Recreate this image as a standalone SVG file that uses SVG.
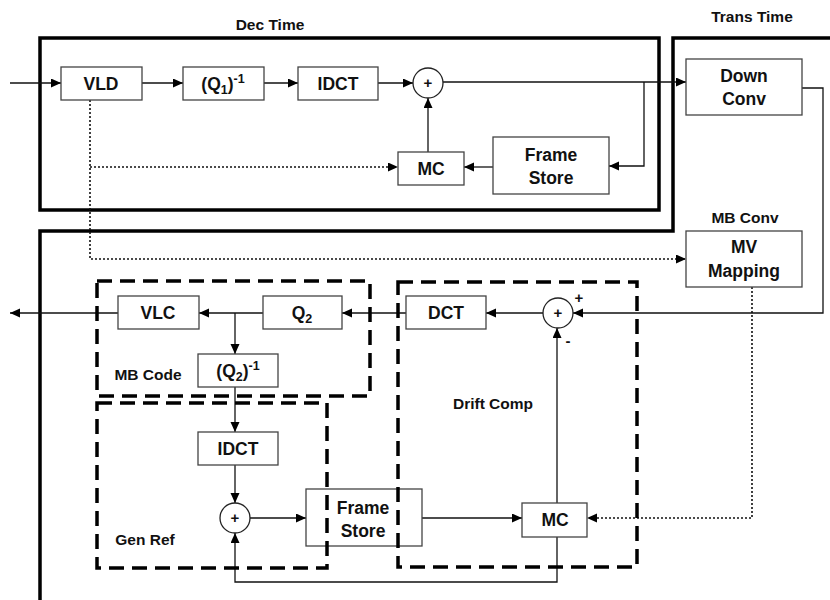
<svg xmlns="http://www.w3.org/2000/svg" width="830" height="600" viewBox="0 0 830 600">
<style>
.box{fill:#fff;stroke:#444;stroke-width:1.3}
.t{font-family:"Liberation Sans",Arial,sans-serif;font-weight:bold;font-size:17.5px;fill:#111;text-anchor:middle}
.lbl{font-family:"Liberation Sans",Arial,sans-serif;font-weight:bold;font-size:15.5px;fill:#111;text-anchor:middle}
.sm{font-size:12.5px}
.ln{fill:none;stroke:#111;stroke-width:1.3}
.dot{fill:none;stroke:#111;stroke-width:1.6;stroke-dasharray:2 2}
.thick{fill:none;stroke:#000;stroke-width:3.5}
.dash{fill:none;stroke:#000;stroke-width:3.5;stroke-dasharray:15 8}
.sum{fill:#fff;stroke:#222;stroke-width:1.3}
.ps{font-family:"Liberation Sans",Arial,sans-serif;font-weight:bold;font-size:15px;fill:#111;text-anchor:middle}
</style>
<defs>
<marker id="a" markerUnits="userSpaceOnUse" markerWidth="11" markerHeight="10" refX="10" refY="4.5" orient="auto">
<path d="M0,0 L10,4.5 L0,9 z" fill="#000"/>
</marker>
</defs>

<g id="frames">
<rect class="thick" x="40" y="38" width="619" height="172"/>
<polyline class="thick" points="830,38 673,38 673,231 40,231 40,600"/>
<text class="lbl" x="270" y="30">Dec Time</text>
<text class="lbl" x="752" y="22">Trans Time</text>
<text class="lbl" x="745" y="223">MB Conv</text>
</g>

<g id="connectors">
<line class="ln" x1="10" y1="83" x2="61" y2="83" marker-end="url(#a)"/>
<line class="ln" x1="142" y1="83" x2="183" y2="83" marker-end="url(#a)"/>
<line class="ln" x1="264" y1="83" x2="298" y2="83" marker-end="url(#a)"/>
<line class="ln" x1="378" y1="83" x2="413" y2="83" marker-end="url(#a)"/>
<line class="ln" x1="443" y1="82" x2="686" y2="82" marker-end="url(#a)"/>
<polyline class="ln" points="644,82 644,166 609,166" marker-end="url(#a)"/>
<line class="ln" x1="493" y1="167" x2="464" y2="167" marker-end="url(#a)"/>
<line class="ln" x1="428" y1="152" x2="428" y2="98" marker-end="url(#a)"/>
<polyline class="dot" points="90,100 90,259 686,259" marker-end="url(#a)"/>
<line class="dot" x1="90" y1="167" x2="398" y2="167" marker-end="url(#a)"/>
<polyline class="ln" points="802,88 823,88 823,313 573,313" marker-end="url(#a)"/>
<line class="ln" x1="543" y1="313" x2="486" y2="313" marker-end="url(#a)"/>
<line class="ln" x1="406" y1="313" x2="342" y2="313" marker-end="url(#a)"/>
<line class="ln" x1="263" y1="313" x2="199" y2="313" marker-end="url(#a)"/>
<line class="ln" x1="118" y1="313" x2="10" y2="313" marker-end="url(#a)"/>
<line class="ln" x1="235" y1="313" x2="235" y2="354" marker-end="url(#a)"/>
<line class="ln" x1="235" y1="387" x2="235" y2="432" marker-end="url(#a)"/>
<line class="ln" x1="235" y1="465" x2="235" y2="503" marker-end="url(#a)"/>
<line class="ln" x1="250" y1="518" x2="306" y2="518" marker-end="url(#a)"/>
<line class="ln" x1="422" y1="518" x2="522" y2="518" marker-end="url(#a)"/>
<line class="ln" x1="557" y1="503" x2="557" y2="328" marker-end="url(#a)"/>
<polyline class="ln" points="557,537 557,582 235,582 235,533" marker-end="url(#a)"/>
<polyline class="dot" points="752,287 752,518 587,518" marker-end="url(#a)"/>
</g>

<g id="vld"><rect class="box" x="61" y="67" width="81" height="33"/><text class="t" x="101" y="90">VLD</text></g>
<g id="q1inv"><rect class="box" x="183" y="67" width="81" height="33"/><text class="t" x="223" y="90">(Q<tspan class="sm" dy="4">1</tspan><tspan dy="-4">)</tspan><tspan class="sm" dy="-7">-1</tspan></text></g>
<g id="idct1"><rect class="box" x="298" y="67" width="80" height="33"/><text class="t" x="338" y="90">IDCT</text></g>
<g id="sum1"><circle class="sum" cx="428" cy="83" r="15"/><text class="ps" x="428" y="88">+</text></g>
<g id="mc1"><rect class="box" x="398" y="152" width="66" height="33"/><text class="t" x="431" y="175">MC</text></g>
<g id="fs1"><rect class="box" x="493" y="137" width="116" height="57"/><text class="t" x="551" y="161">Frame</text><text class="t" x="551" y="184">Store</text></g>
<g id="downconv"><rect class="box" x="686" y="59" width="116" height="56"/><text class="t" x="744" y="82">Down</text><text class="t" x="744" y="105">Conv</text></g>
<g id="mvmap"><rect class="box" x="686" y="231" width="116" height="56"/><text class="t" x="744" y="253">MV</text><text class="t" x="744" y="277">Mapping</text></g>
<g id="vlc"><rect class="box" x="118" y="296" width="81" height="33"/><text class="t" x="158" y="319">VLC</text></g>
<g id="q2"><rect class="box" x="263" y="296" width="79" height="33"/><text class="t" x="302" y="319">Q<tspan class="sm" dy="4">2</tspan></text></g>
<g id="dct"><rect class="box" x="406" y="296" width="80" height="33"/><text class="t" x="446" y="319">DCT</text></g>
<g id="sum2"><circle class="sum" cx="558" cy="313" r="15"/><text class="ps" x="558" y="318">+</text><text class="ps" x="579" y="303">+</text><text class="ps" x="568" y="346">-</text></g>
<g id="q2inv"><rect class="box" x="198" y="354" width="80" height="33"/><text class="t" x="238" y="377">(Q<tspan class="sm" dy="4">2</tspan><tspan dy="-4">)</tspan><tspan class="sm" dy="-7">-1</tspan></text></g>
<g id="idct2"><rect class="box" x="198" y="432" width="80" height="33"/><text class="t" x="238" y="455">IDCT</text></g>
<g id="sum3"><circle class="sum" cx="235" cy="518" r="15"/><text class="ps" x="235" y="523">+</text></g>
<g id="fs2"><rect class="box" x="306" y="489" width="116" height="57"/><text class="t" x="363" y="514">Frame</text><text class="t" x="363" y="537">Store</text></g>
<g id="mc2"><rect class="box" x="522" y="503" width="65" height="34"/><text class="t" x="555" y="526">MC</text></g>

<g id="mbcode"><rect class="dash" x="97" y="281" width="273" height="115"/><text class="lbl" x="148" y="380">MB Code</text></g>
<g id="driftcomp"><rect class="dash" x="398" y="282" width="239" height="285"/><text class="lbl" x="493" y="409">Drift Comp</text></g>
<g id="genref"><rect class="dash" x="97" y="403" width="230" height="165"/><text class="lbl" x="145" y="545">Gen Ref</text></g>
</svg>
